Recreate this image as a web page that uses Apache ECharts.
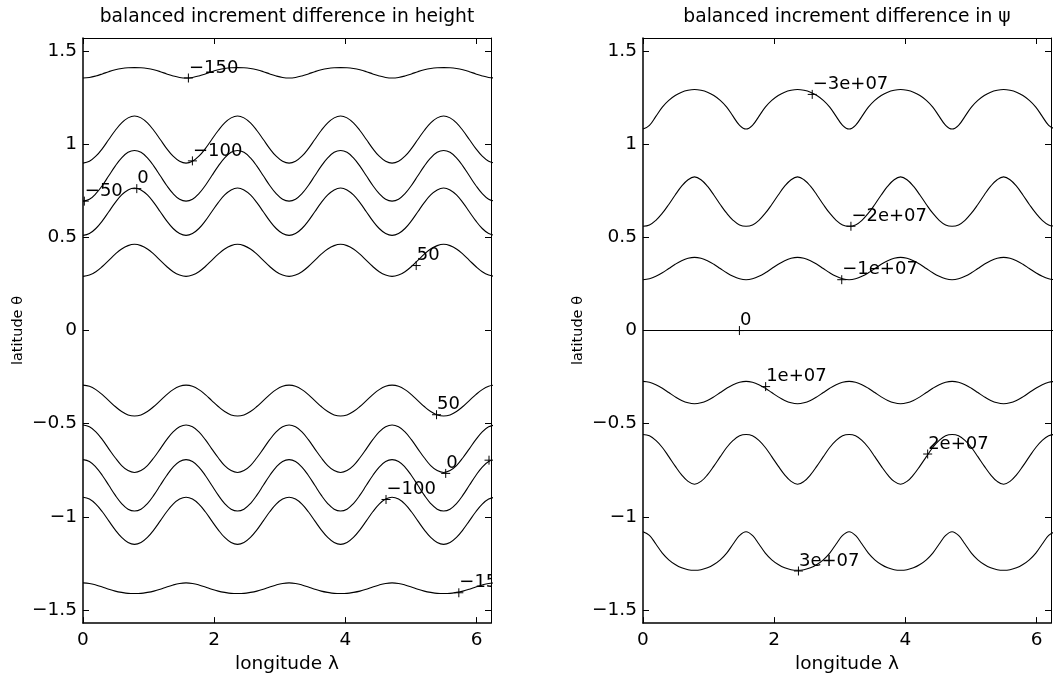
<!DOCTYPE html>
<html>
<head>
<meta charset="utf-8">
<script src="https://cdn.jsdelivr.net/npm/echarts@6/dist/echarts.min.js"></script>
<style>
html,body{margin:0;padding:0;background:#fff;}
#c{width:1053px;height:679px;}
</style>
</head>
<body>
<div id="c"></div>
<script>
// longitude samples (every pi/32)
const lon = [0,0.098,0.196,0.295,0.393,0.491,0.589,0.687,0.785,0.884,0.982,1.080,1.178,1.276,1.374,1.473,
1.571,1.669,1.767,1.865,1.963,2.062,2.160,2.258,2.356,2.454,2.553,2.651,2.749,2.847,2.945,3.043,
3.142,3.240,3.338,3.436,3.534,3.632,3.731,3.829,3.927,4.025,4.123,4.222,4.320,4.418,4.516,4.614,
4.712,4.811,4.909,5.007,5.105,5.203,5.301,5.400,5.498,5.596,5.694,5.792,5.890,5.989,6.087,6.185,6.283];
const xTicks = [0,2,4,6];
const yTicks = [-1.5,-1,-0.5,0,0.5,1,1.5];
const xMax = 6.2204;
const yMin = -1.5708, yMax = 1.5708;

// left panel: height contours (latitude of the contour line at each longitude)
const hM150n = [
1.356,1.359,1.367,1.378,1.390,1.400,1.407,1.411,1.412,1.411,1.407,1.400,1.390,1.378,1.367,1.359,
1.356,1.359,1.367,1.378,1.390,1.400,1.407,1.411,1.412,1.411,1.407,1.400,1.390,1.378,1.367,1.359,
1.356,1.359,1.367,1.378,1.390,1.400,1.407,1.411,1.412,1.411,1.407,1.400,1.390,1.378,1.367,1.359,
1.356,1.359,1.367,1.378,1.390,1.400,1.407,1.411,1.412,1.411,1.407,1.400,1.390,1.378,1.367,1.359,1.356];
const hM100n = [
0.899,0.909,0.936,0.977,1.026,1.074,1.115,1.142,1.152,1.142,1.115,1.074,1.026,0.977,0.936,0.909,
0.899,0.909,0.936,0.977,1.026,1.074,1.115,1.142,1.152,1.142,1.115,1.074,1.026,0.977,0.936,0.909,
0.899,0.909,0.936,0.977,1.026,1.074,1.115,1.142,1.152,1.142,1.115,1.074,1.026,0.977,0.936,0.909,
0.899,0.909,0.936,0.977,1.026,1.074,1.115,1.142,1.152,1.142,1.115,1.074,1.026,0.977,0.936,0.909,0.899];
const hM50n = [
0.695,0.705,0.735,0.779,0.831,0.883,0.927,0.957,0.967,0.957,0.927,0.883,0.831,0.779,0.735,0.705,
0.695,0.705,0.735,0.779,0.831,0.883,0.927,0.957,0.967,0.957,0.927,0.883,0.831,0.779,0.735,0.705,
0.695,0.705,0.735,0.779,0.831,0.883,0.927,0.957,0.967,0.957,0.927,0.883,0.831,0.779,0.735,0.705,
0.695,0.705,0.735,0.779,0.831,0.883,0.927,0.957,0.967,0.957,0.927,0.883,0.831,0.779,0.735,0.705,0.695];
const h0n = [
0.511,0.521,0.548,0.589,0.638,0.687,0.728,0.755,0.765,0.755,0.728,0.687,0.638,0.589,0.548,0.521,
0.511,0.521,0.548,0.589,0.638,0.687,0.728,0.755,0.765,0.755,0.728,0.687,0.638,0.589,0.548,0.521,
0.511,0.521,0.548,0.589,0.638,0.687,0.728,0.755,0.765,0.755,0.728,0.687,0.638,0.589,0.548,0.521,
0.511,0.521,0.548,0.589,0.638,0.687,0.728,0.755,0.765,0.755,0.728,0.687,0.638,0.589,0.548,0.521,0.511];
const h50n = [
0.291,0.298,0.316,0.344,0.377,0.410,0.438,0.456,0.463,0.456,0.438,0.410,0.377,0.344,0.316,0.298,
0.291,0.298,0.316,0.344,0.377,0.410,0.438,0.456,0.463,0.456,0.438,0.410,0.377,0.344,0.316,0.298,
0.291,0.298,0.316,0.344,0.377,0.410,0.438,0.456,0.463,0.456,0.438,0.410,0.377,0.344,0.316,0.298,
0.291,0.298,0.316,0.344,0.377,0.410,0.438,0.456,0.463,0.456,0.438,0.410,0.377,0.344,0.316,0.298,0.291];
const h50s = [
-0.293,-0.299,-0.317,-0.344,-0.376,-0.408,-0.435,-0.453,-0.459,-0.453,-0.435,-0.408,-0.376,-0.344,-0.317,-0.299,
-0.293,-0.299,-0.317,-0.344,-0.376,-0.408,-0.435,-0.453,-0.459,-0.453,-0.435,-0.408,-0.376,-0.344,-0.317,-0.299,
-0.293,-0.299,-0.317,-0.344,-0.376,-0.408,-0.435,-0.453,-0.459,-0.453,-0.435,-0.408,-0.376,-0.344,-0.317,-0.299,
-0.293,-0.299,-0.317,-0.344,-0.376,-0.408,-0.435,-0.453,-0.459,-0.453,-0.435,-0.408,-0.376,-0.344,-0.317,-0.299,-0.293];
const h0s = [
-0.507,-0.517,-0.544,-0.586,-0.635,-0.683,-0.725,-0.752,-0.762,-0.752,-0.725,-0.683,-0.635,-0.586,-0.544,-0.517,
-0.507,-0.517,-0.544,-0.586,-0.635,-0.683,-0.725,-0.752,-0.762,-0.752,-0.725,-0.683,-0.635,-0.586,-0.544,-0.517,
-0.507,-0.517,-0.544,-0.586,-0.635,-0.683,-0.725,-0.752,-0.762,-0.752,-0.725,-0.683,-0.635,-0.586,-0.544,-0.517,
-0.507,-0.517,-0.544,-0.586,-0.635,-0.683,-0.725,-0.752,-0.762,-0.752,-0.725,-0.683,-0.635,-0.586,-0.544,-0.517,-0.507];
const hM50s = [
-0.693,-0.703,-0.733,-0.778,-0.831,-0.884,-0.929,-0.959,-0.969,-0.959,-0.929,-0.884,-0.831,-0.778,-0.733,-0.703,
-0.693,-0.703,-0.733,-0.778,-0.831,-0.884,-0.929,-0.959,-0.969,-0.959,-0.929,-0.884,-0.831,-0.778,-0.733,-0.703,
-0.693,-0.703,-0.733,-0.778,-0.831,-0.884,-0.929,-0.959,-0.969,-0.959,-0.929,-0.884,-0.831,-0.778,-0.733,-0.703,
-0.693,-0.703,-0.733,-0.778,-0.831,-0.884,-0.929,-0.959,-0.969,-0.959,-0.929,-0.884,-0.831,-0.778,-0.733,-0.703,-0.693];
const hM100s = [
-0.895,-0.905,-0.932,-0.973,-1.022,-1.070,-1.111,-1.138,-1.148,-1.138,-1.111,-1.070,-1.022,-0.973,-0.932,-0.905,
-0.895,-0.905,-0.932,-0.973,-1.022,-1.070,-1.111,-1.138,-1.148,-1.138,-1.111,-1.070,-1.022,-0.973,-0.932,-0.905,
-0.895,-0.905,-0.932,-0.973,-1.022,-1.070,-1.111,-1.138,-1.148,-1.138,-1.111,-1.070,-1.022,-0.973,-0.932,-0.905,
-0.895,-0.905,-0.932,-0.973,-1.022,-1.070,-1.111,-1.138,-1.148,-1.138,-1.111,-1.070,-1.022,-0.973,-0.932,-0.905,-0.895];
const hM150s = [
-1.355,-1.358,-1.366,-1.377,-1.389,-1.399,-1.406,-1.411,-1.412,-1.411,-1.406,-1.399,-1.389,-1.377,-1.366,-1.358,
-1.355,-1.358,-1.366,-1.377,-1.389,-1.399,-1.406,-1.411,-1.412,-1.411,-1.406,-1.399,-1.389,-1.377,-1.366,-1.358,
-1.355,-1.358,-1.366,-1.377,-1.389,-1.399,-1.406,-1.411,-1.412,-1.411,-1.406,-1.399,-1.389,-1.377,-1.366,-1.358,
-1.355,-1.358,-1.366,-1.377,-1.389,-1.399,-1.406,-1.411,-1.412,-1.411,-1.406,-1.399,-1.389,-1.377,-1.366,-1.358,-1.355];

// right panel: psi contours
const pM3 = [
1.082,1.102,1.150,1.200,1.236,1.262,1.280,1.290,1.294,1.290,1.280,1.262,1.236,1.200,1.150,1.102,
1.082,1.102,1.150,1.200,1.236,1.262,1.280,1.290,1.294,1.290,1.280,1.262,1.236,1.200,1.150,1.102,
1.082,1.102,1.150,1.200,1.236,1.262,1.280,1.290,1.294,1.290,1.280,1.262,1.236,1.200,1.150,1.102,
1.082,1.102,1.150,1.200,1.236,1.262,1.280,1.290,1.294,1.290,1.280,1.262,1.236,1.200,1.150,1.102,1.082];
const pM2 = [
0.560,0.567,0.592,0.630,0.677,0.728,0.775,0.810,0.825,0.810,0.775,0.728,0.677,0.630,0.592,0.567,
0.560,0.567,0.592,0.630,0.677,0.728,0.775,0.810,0.825,0.810,0.775,0.728,0.677,0.630,0.592,0.567,
0.560,0.567,0.592,0.630,0.677,0.728,0.775,0.810,0.825,0.810,0.775,0.728,0.677,0.630,0.592,0.567,
0.560,0.567,0.592,0.630,0.677,0.728,0.775,0.810,0.825,0.810,0.775,0.728,0.677,0.630,0.592,0.567,0.560];
const pM1 = [
0.273,0.278,0.291,0.310,0.333,0.356,0.375,0.388,0.393,0.388,0.375,0.356,0.333,0.310,0.291,0.278,
0.273,0.278,0.291,0.310,0.333,0.356,0.375,0.388,0.393,0.388,0.375,0.356,0.333,0.310,0.291,0.278,
0.273,0.278,0.291,0.310,0.333,0.356,0.375,0.388,0.393,0.388,0.375,0.356,0.333,0.310,0.291,0.278,
0.273,0.278,0.291,0.310,0.333,0.356,0.375,0.388,0.393,0.388,0.375,0.356,0.333,0.310,0.291,0.278,0.273];
const p0 = [
0,0,0,0,0,0,0,0,0,0,0,0,0,0,0,0,
0,0,0,0,0,0,0,0,0,0,0,0,0,0,0,0,
0,0,0,0,0,0,0,0,0,0,0,0,0,0,0,0,
0,0,0,0,0,0,0,0,0,0,0,0,0,0,0,0,0];
const pP1 = [
-0.273,-0.278,-0.291,-0.310,-0.333,-0.356,-0.375,-0.388,-0.393,-0.388,-0.375,-0.356,-0.333,-0.310,-0.291,-0.278,
-0.273,-0.278,-0.291,-0.310,-0.333,-0.356,-0.375,-0.388,-0.393,-0.388,-0.375,-0.356,-0.333,-0.310,-0.291,-0.278,
-0.273,-0.278,-0.291,-0.310,-0.333,-0.356,-0.375,-0.388,-0.393,-0.388,-0.375,-0.356,-0.333,-0.310,-0.291,-0.278,
-0.273,-0.278,-0.291,-0.310,-0.333,-0.356,-0.375,-0.388,-0.393,-0.388,-0.375,-0.356,-0.333,-0.310,-0.291,-0.278,-0.273];
const pP2 = [
-0.558,-0.565,-0.590,-0.628,-0.677,-0.728,-0.775,-0.810,-0.825,-0.810,-0.775,-0.728,-0.677,-0.628,-0.590,-0.565,
-0.558,-0.565,-0.590,-0.628,-0.677,-0.728,-0.775,-0.810,-0.825,-0.810,-0.775,-0.728,-0.677,-0.628,-0.590,-0.565,
-0.558,-0.565,-0.590,-0.628,-0.677,-0.728,-0.775,-0.810,-0.825,-0.810,-0.775,-0.728,-0.677,-0.628,-0.590,-0.565,
-0.558,-0.565,-0.590,-0.628,-0.677,-0.728,-0.775,-0.810,-0.825,-0.810,-0.775,-0.728,-0.677,-0.628,-0.590,-0.565,-0.558];
const pP3 = [
-1.080,-1.100,-1.146,-1.195,-1.231,-1.256,-1.274,-1.284,-1.287,-1.284,-1.274,-1.256,-1.231,-1.195,-1.146,-1.100,
-1.080,-1.100,-1.146,-1.195,-1.231,-1.256,-1.274,-1.284,-1.287,-1.284,-1.274,-1.256,-1.231,-1.195,-1.146,-1.100,
-1.080,-1.100,-1.146,-1.195,-1.231,-1.256,-1.274,-1.284,-1.287,-1.284,-1.274,-1.256,-1.231,-1.195,-1.146,-1.100,
-1.080,-1.100,-1.146,-1.195,-1.231,-1.256,-1.274,-1.284,-1.287,-1.284,-1.274,-1.256,-1.231,-1.195,-1.146,-1.100,-1.080];

// contour labels
const labLLon  = [1.607, 1.668, 0.02, 0.82, 5.08, 5.39, 5.53, 6.19, 4.62, 5.73];
const labLLat  = [1.356, 0.911, 0.695, 0.762, 0.349, -0.452, -0.767, -0.696, -0.907, -1.408];
const labLText = ['\u2212150','\u2212100','\u221250','0','50','50','0','\u221250','\u2212100','\u2212150'];
const labRLon  = [2.58, 3.17, 3.03, 1.47, 1.87, 4.34, 2.37];
const labRLat  = [1.268, 0.560, 0.273, 0, -0.301, -0.663, -1.291];
const labRText = ['\u22123e+07','\u22122e+07','\u22121e+07','0','1e+07','2e+07','3e+07'];

const FONT = 'DejaVu Sans';
const leftCurves = [hM150n,hM100n,hM50n,h0n,h50n,h50s,h0s,hM50s,hM100s,hM150s];
const rightCurves = [pM3,pM2,pM1,p0,pP1,pP2,pP3];

function pairs(ys){ return lon.map((x,i)=>[x, ys[i]]); }
function fmt(v){ return String(v).replace('-', '\u2212'); }

function axesFor(gi){
  const xb = {gridIndex:gi, type:'value', min:0, max:xMax, position:'bottom',
    axisLine:{show:true, onZero:false, lineStyle:{color:'#000', width:1.5}},
    axisTick:{show:true, inside:true, length:6, customValues:xTicks, lineStyle:{color:'#000', width:1}},
    axisLabel:{show:true, customValues:xTicks, formatter:fmt, color:'#000', fontFamily:FONT, fontSize:18.5, margin:8},
    splitLine:{show:false},
    name:'longitude \u03bb', nameLocation:'middle', nameGap:27,
    nameTextStyle:{color:'#000', fontFamily:FONT, fontSize:18.5}};
  const xt = {gridIndex:gi, type:'value', min:0, max:xMax, position:'top',
    axisLine:{show:true, onZero:false, lineStyle:{color:'#000', width:1}},
    axisTick:{show:true, inside:true, length:6, customValues:xTicks, lineStyle:{color:'#000', width:1}},
    axisLabel:{show:false}, splitLine:{show:false}};
  const yl = {gridIndex:gi, type:'value', min:yMin, max:yMax, position:'left',
    axisLine:{show:true, onZero:false, lineStyle:{color:'#000', width:1.5}},
    axisTick:{show:true, inside:true, length:6, customValues:yTicks, lineStyle:{color:'#000', width:1}},
    axisLabel:{show:true, customValues:yTicks, formatter:fmt, color:'#000', fontFamily:FONT, fontSize:18.5, margin:6},
    splitLine:{show:false},
    name:'latitude \u03b8', nameLocation:'middle', nameGap:57,
    nameTextStyle:{color:'#000', fontFamily:FONT, fontSize:14.5}};
  const yr = {gridIndex:gi, type:'value', min:yMin, max:yMax, position:'right',
    axisLine:{show:true, onZero:false, lineStyle:{color:'#000', width:1}},
    axisTick:{show:true, inside:true, length:6, customValues:yTicks, lineStyle:{color:'#000', width:1}},
    axisLabel:{show:false}, splitLine:{show:false}};
  return {x:[xb,xt], y:[yl,yr]};
}

const a0 = axesFor(0), a1 = axesFor(1);
const series = [];
const curveStyle = {color:'#000', width:1.1};
leftCurves.forEach(c=>series.push({type:'line', xAxisIndex:0, yAxisIndex:0, data:pairs(c), smooth:0.4, showSymbol:false, clip:true, silent:true, lineStyle:curveStyle}));
rightCurves.forEach(c=>series.push({type:'line', xAxisIndex:2, yAxisIndex:2, data:pairs(c), smooth:0.4, showSymbol:false, clip:true, silent:true, lineStyle:curveStyle}));

function labelSeries(xi, yi, lons, lats, texts){
  return {type:'custom', xAxisIndex:xi, yAxisIndex:yi, clip:true, silent:true, z:5,
    data: lons.map((x,i)=>[x, lats[i]]),
    renderItem: function(params, api){
      const p = api.coord([api.value(0), api.value(1)]);
      return {type:'group', children:[
        {type:'line', shape:{x1:p[0]-4.5, y1:p[1], x2:p[0]+4.5, y2:p[1]}, style:{stroke:'#000', lineWidth:1}},
        {type:'line', shape:{x1:p[0], y1:p[1]-4.5, x2:p[0], y2:p[1]+4.5}, style:{stroke:'#000', lineWidth:1}},
        {type:'text', x:p[0]+0.5, y:p[1]-1, style:{text:texts[params.dataIndex], fill:'#000', font:'18px "DejaVu Sans"', align:'left', verticalAlign:'bottom'}}
      ]};
    }};
}
series.push(labelSeries(0,0,labLLon,labLLat,labLText));
series.push(labelSeries(2,2,labRLon,labRLat,labRText));

const option = {
  animation:false,
  backgroundColor:'#fff',
  title:[
    {text:'balanced increment difference in height', left:287, top:8, padding:0, textAlign:'center', textStyle:{color:'#000', fontFamily:FONT, fontSize:18.7, fontWeight:'normal'}},
    {text:'balanced increment difference in \u03c8', left:847, top:8, padding:0, textAlign:'center', textStyle:{color:'#000', fontFamily:FONT, fontSize:18.7, fontWeight:'normal'}}
  ],
  grid:[
    {left:83, top:38, width:408, height:596, containLabel:false},
    {left:643, top:38, width:408, height:596, containLabel:false}
  ],
  xAxis:[a0.x[0], a0.x[1], a1.x[0], a1.x[1]],
  yAxis:[a0.y[0], a0.y[1], a1.y[0], a1.y[1]],
  series: series
};
const chart = echarts.init(document.getElementById('c'), null, {renderer:'canvas'});
chart.setOption(option);
</script>
</body>
</html>
